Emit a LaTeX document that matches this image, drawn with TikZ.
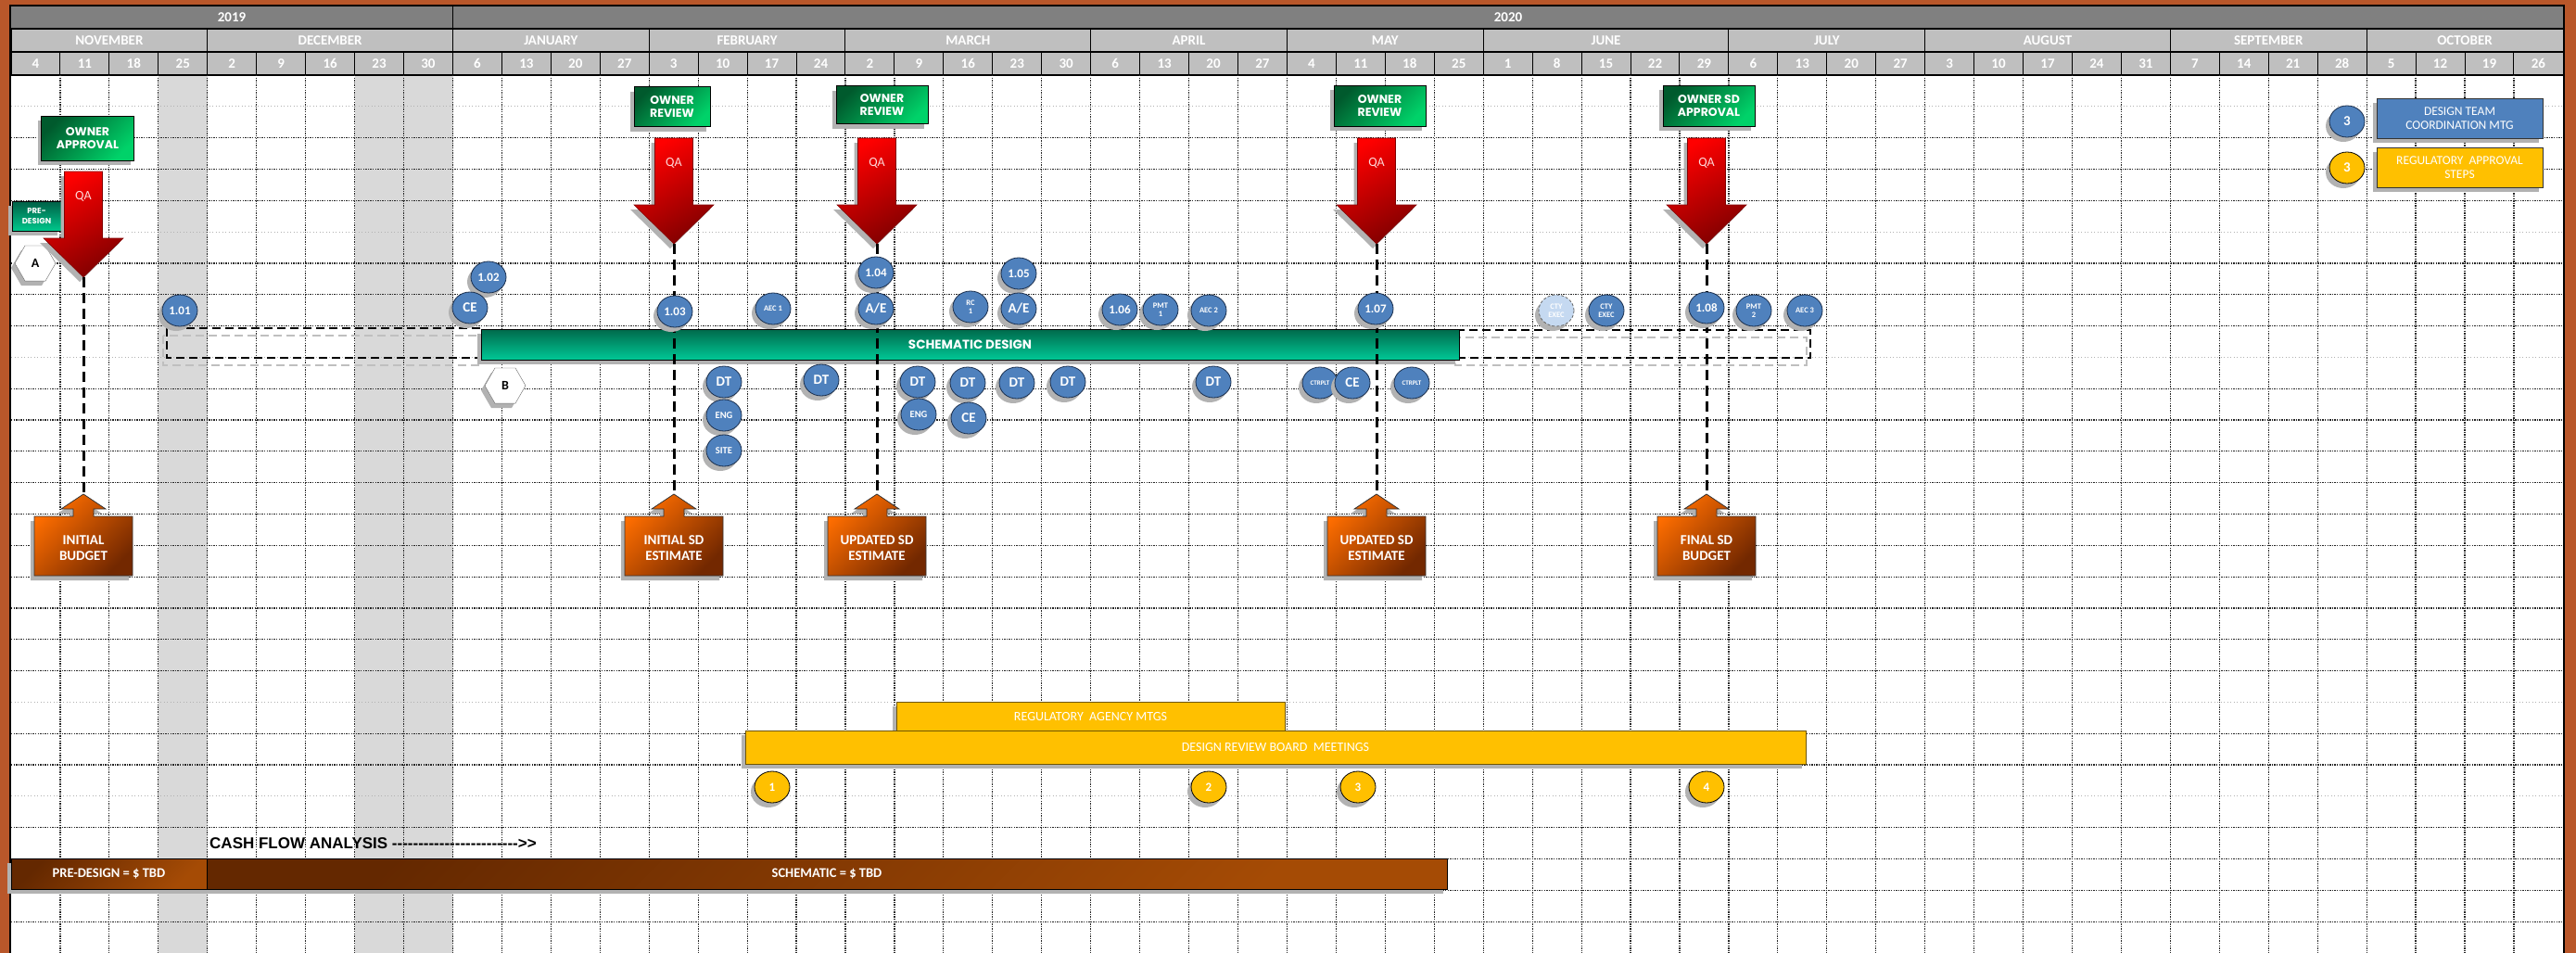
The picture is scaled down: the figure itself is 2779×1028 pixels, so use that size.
\documentclass[tikz,border=0pt]{standalone}
\usepackage{fontspec}
\setmainfont{Carlito}
\newfontfamily\gothic{Poppins}
\newfontfamily\arialfont{Liberation Sans}
\usepackage{tikz}
\usetikzlibrary{positioning}
\usetikzlibrary{shapes.geometric}
\usetikzlibrary{shadows}
\usepackage{xcolor}

\definecolor{frameC}{RGB}{185,87,42}
\definecolor{yearC}{RGB}{128,128,128}
\definecolor{monthC}{RGB}{191,191,191}
\definecolor{offC}{RGB}{217,217,217}
\definecolor{ownDark}{RGB}{0,90,45}
\definecolor{ownLight}{RGB}{0,210,105}
\definecolor{preDark}{RGB}{0,95,70}
\definecolor{preLight}{RGB}{0,200,140}
\definecolor{sdDark}{RGB}{0,105,75}
\definecolor{sdLight}{RGB}{0,200,150}
\definecolor{qaLight}{RGB}{255,0,0}
\definecolor{qaDark}{RGB}{130,0,0}
\definecolor{estLight}{RGB}{255,110,0}
\definecolor{estDark}{RGB}{115,40,0}
\definecolor{cashDark}{RGB}{100,40,0}
\definecolor{cashLight}{RGB}{165,75,5}
\definecolor{mtgC}{RGB}{79,129,189}
\definecolor{mtgEdge}{RGB}{25,45,75}
\definecolor{ctyC}{RGB}{197,217,241}
\definecolor{regC}{RGB}{255,192,0}
\definecolor{regEdge}{RGB}{110,85,0}

\begin{document}
\begin{tikzpicture}[x=1pt,y=-1pt,
  boxshadow/.style={general shadow={fill=black!30, shadow xshift=-4pt, shadow yshift=-5pt}},
  hdr/.style={text=white, font=\bfseries\fontsize{15}{15}\selectfont},
  gridln/.style={black!85, line width=1.2pt, dash pattern=on 1.4pt off 1.2pt},
  gridlt/.style={black!30, line width=1pt, dash pattern=on 1pt off 2.5pt},
  owner/.style={draw=black, line width=1pt, top color=ownDark, bottom color=ownLight, shading angle=45,
    text=white, align=center, inner sep=0pt, font=\gothic\bfseries\fontsize{12.5}{14}\selectfont, boxshadow},
  qa/.style={draw=qaDark, line width=0.6pt, top color=qaLight, bottom color=qaDark, shading angle=30, boxshadow},
  qatext/.style={text=white!85!red, font=\fontsize{14}{14}\selectfont},
  est/.style={draw=black!80, line width=0.8pt, top color=estLight, bottom color=estDark, shading angle=45, boxshadow},
  esttext/.style={text=white, align=center, font=\bfseries\fontsize{15}{17}\selectfont},
  qaline/.style={line width=3pt, dash pattern=on 11pt off 6pt},
  dashbox/.style={line width=2.2pt, dash pattern=on 9pt off 5pt},
  mtg/.style={ellipse, draw=mtgEdge, line width=0.8pt, fill=mtgC, text=white, minimum width=38pt,
    minimum height=34pt, inner sep=0pt, align=center, font=\bfseries\fontsize{13}{12}\selectfont, boxshadow},
  mtgbig/.style={mtg, font=\bfseries\fontsize{15}{15}\selectfont},
  mtgmd/.style={mtg, font=\bfseries\fontsize{10.5}{10}\selectfont},
  mtgsm/.style={mtg, font=\bfseries\fontsize{8.5}{9.5}\selectfont},
  ymtg/.style={mtg, fill=regC, draw=black},
  hexa/.style={regular polygon, regular polygon sides=6, draw=black!60, fill=white, minimum size=44pt,
    inner sep=0pt, font=\bfseries\fontsize{14}{14}\selectfont, boxshadow},
  regbar/.style={draw=regEdge, line width=1pt, fill=regC, text=white, inner sep=0pt,
    font=\fontsize{14}{14}\selectfont, boxshadow},
  legbox/.style={draw=black!80, line width=1pt, text=white, align=center, inner sep=0pt,
    minimum width=179pt, minimum height=43pt, font=\fontsize{13.5}{15}\selectfont, boxshadow},
  cash/.style={draw=black, line width=1pt, top color=cashDark, bottom color=cashLight, shading angle=45,
    text=white, inner sep=0pt, minimum height=33pt, font=\bfseries\fontsize{14.5}{14}\selectfont, boxshadow}
]
\useasboundingbox (0,0) rectangle (2779,1028);

% frame and body
\fill[frameC] (0,0) rectangle (2779,1028);
\fill[white] (12,7) rectangle (2765,1028);
\fill[offC] (170.8,81) rectangle (223.8,1028);
\fill[offC] (382.6,81) rectangle (488.5,1028);

% header
\fill[yearC] (12,7) rectangle (2765,31);
\fill[monthC] (12,31) rectangle (2765,81);
\node[hdr] (y2019) at (250,19) {2019};
\node[hdr] (y2020) at (1627,19) {2020};
\draw[line width=1pt] (488.5,7) -- (488.5,31);

\foreach \a/\b/\m in {0/4/NOVEMBER,4/9/DECEMBER,9/13/JANUARY,13/17/FEBRUARY,17/22/MARCH,22/26/APRIL,
  26/30/MAY,30/35/JUNE,35/39/JULY,39/44/AUGUST,44/48/SEPTEMBER,48/52/OCTOBER}{
  \node[hdr] (mo\a) at ({12+26.47*(\a+\b)},43.5) {\m};
  \draw[line width=1pt] ({12+52.94*\a},31) -- ({12+52.94*\a},56);
}
\foreach \d [count=\i from 0] in {4,11,18,25,2,9,16,23,30,6,13,20,27,3,10,17,24,2,9,16,23,30,6,13,20,27,
  4,11,18,25,1,8,15,22,29,6,13,20,27,3,10,17,24,31,7,14,21,28,5,12,19,26}{
  \node[hdr] (wk\i) at ({38.47+52.94*\i},68.5) {\d};
  \draw[line width=1pt] ({12+52.94*\i},56) -- ({12+52.94*\i},81);
}
\draw[line width=1.2pt] (12,31) -- (2765,31) (12,56) -- (2765,56) (12,81) -- (2765,81);

% grid
\foreach \k in {2,3,4,6,7,8,10,11,12,13,14,15,16,17,18,19,21,22,24,25,26,27}
  \draw[gridln] (12,{81+33.82*\k}) -- (2765,{81+33.82*\k});
\foreach \k in {1,5,9,20,23}
  \draw[gridlt] (12,{81+33.82*\k}) -- (2765,{81+33.82*\k});
\foreach \i in {1,...,51}
  \draw[gridln] ({12+52.94*\i},81) -- ({12+52.94*\i},1028);

% outer border
\draw[line width=2.5pt] (11,1028) -- (11,6) -- (2766,6) -- (2766,1028);

% legend
\node[mtgbig] (leg1) at (2532,131) {3};
\node[legbox, fill=mtgC] (legdt) at (2653.5,127.5) {DESIGN TEAM\\COORDINATION MTG};
\node[mtgbig, fill=regC, draw=black] (leg2) at (2532,181) {3};
\node[legbox, fill=regC] (legreg) at (2653.5,180.5) {REGULATORY\ \ APPROVAL\\STEPS};

% pre-design
\node[owner, top color=preDark, bottom color=preLight, minimum width=53pt, minimum height=32pt,
  font=\gothic\bfseries\fontsize{8.5}{11}\selectfont] (pre) at (39.5,233) {PRE-\\DESIGN};
\node[hexa] (hexA) at (38,284) {A};
\node[hexa] (hexB) at (545,416) {B};

% owner boxes
\node[owner, minimum width=100pt, minimum height=48pt] (own1) at (94.5,149) {OWNER\\APPROVAL};
\node[owner, minimum width=82pt, minimum height=43pt] (own2) at (725,115) {OWNER\\REVIEW};
\node[owner, minimum width=99pt, minimum height=41pt] (own3) at (951.5,113) {OWNER\\REVIEW};
\node[owner, minimum width=99pt, minimum height=44pt] (own4) at (1488.5,114) {OWNER\\REVIEW};
\node[owner, minimum width=99pt, minimum height=44pt] (own5) at (1843.5,114) {OWNER SD\\APPROVAL};

% schematic design bar and dashed spans
\draw[black!25, dashbox] (176,362) rectangle (516,394);
\draw[dashbox] (180,354) rectangle (520,386);
\draw[black!25, dashbox] (1570,364) rectangle (1949,394);
\draw[dashbox] (1574,356) rectangle (1953,386);
\node[draw=black, line width=1pt, top color=sdDark, bottom color=sdLight, text=white, inner sep=0pt,
  minimum width=1055pt, minimum height=33pt, font=\gothic\bfseries\fontsize{13.5}{14}\selectfont, boxshadow]
  (sd) at (1046.5,371.5) {SCHEMATIC DESIGN};

% QA arrows
\foreach \x/\t/\n in {90/185/a,727/149/b,946/149/c,1485/149/d,1841/149/e}{
  \shadedraw[qa] (\x-20.5,\t) -- (\x+20.5,\t) -- (\x+20.5,\t+72) -- (\x+43,\t+72) -- (\x,\t+114)
    -- (\x-43,\t+72) -- (\x-20.5,\t+72) -- cycle;
  \node[qatext] (qa\n) at (\x,\t+27) {QA};
  \coordinate (qatip\n) at (\x,\t+114);
}

% estimate callouts
\foreach \x/\n/\txt in {90/a/{INITIAL\\BUDGET},727/b/{INITIAL SD\\ESTIMATE},946/c/{UPDATED SD\\ESTIMATE},
  1485/d/{UPDATED SD\\ESTIMATE},1841/e/{FINAL SD\\BUDGET}}{
  \shadedraw[est] (\x-53,621) -- (\x-53,557) -- (\x-11,557) -- (\x-11,549) -- (\x-24,549) -- (\x,533)
    -- (\x+24,549) -- (\x+11,549) -- (\x+11,557) -- (\x+53,557) -- (\x+53,621) -- cycle;
  \node[esttext] (est\n) at (\x,591) {\txt};
  \coordinate (esttip\n) at (\x,533);
}

\foreach \n in {a,b,c,d,e}
  \draw[qaline] (qatip\n) -- (esttip\n);

% meetings along the bar
\node[mtg] (m101) at (194,335) {1.01};
\node[mtg] (m102) at (527,299) {1.02};
\node[mtgbig] (mce1) at (507,332) {CE};
\node[mtg] (m103) at (728,336) {1.03};
\node[mtgsm] (maec1) at (834,333) {AEC 1};
\node[mtg] (m104) at (945,294) {1.04};
\node[mtgbig] (mae1) at (945,333) {A/E};
\node[mtgsm] (mrc1) at (1047,331) {RC\\1};
\node[mtg] (m105) at (1099,295) {1.05};
\node[mtgbig] (mae2) at (1099,333) {A/E};
\node[mtg] (m106) at (1208,334) {1.06};
\node[mtgsm] (mpmt1) at (1252,334) {PMT\\1};
\node[mtgsm] (maec2) at (1304,335) {AEC 2};
\node[mtg] (m107) at (1484,333) {1.07};
\node[mtgsm, fill=ctyC, draw=black!60, densely dashed] (mcty1) at (1679,335) {CTY\\EXEC};
\node[mtgsm] (mcty2) at (1733,335) {CTY\\EXEC};
\node[mtg] (m108) at (1841,332) {1.08};
\node[mtgsm] (mpmt2) at (1892,335) {PMT\\2};
\node[mtgsm] (maec3) at (1947,335) {AEC 3};

\node[mtgbig] (mdt1) at (781,412) {DT};
\node[mtgmd] (meng1) at (781,448) {ENG};
\node[mtgmd] (msite) at (781,486) {SITE};
\node[mtgbig] (mdt2) at (886,410) {DT};
\node[mtgbig] (mdt3) at (990,412) {DT};
\node[mtgmd] (meng2) at (991,447) {ENG};
\node[mtgbig] (mdt4) at (1044,413) {DT};
\node[mtgbig] (mce2) at (1045,451) {CE};
\node[mtgbig] (mdt5) at (1097,413) {DT};
\node[mtgbig] (mdt6) at (1152,412) {DT};
\node[mtgbig] (mdt7) at (1309,412) {DT};
\node[mtgsm, font=\bfseries\fontsize{7}{7}\selectfont] (mctr1) at (1424,413) {CTRPLT};
\node[mtgbig] (mce3) at (1459,413) {CE};
\node[mtgsm, font=\bfseries\fontsize{7}{7}\selectfont] (mctr2) at (1523,413) {CTRPLT};

% regulatory
\node[regbar, minimum width=419pt, minimum height=31pt] (regmtg) at (1176.5,772.5) {REGULATORY\ \ AGENCY MTGS};
\node[regbar, minimum width=1144pt, minimum height=36pt] (drb) at (1376,806) {DESIGN REVIEW BOARD\ \ MEETINGS};
\node[ymtg] (drb1) at (833,849) {1};
\node[ymtg] (drb2) at (1304,849) {2};
\node[ymtg] (drb3) at (1465,849) {3};
\node[ymtg] (drb4) at (1841,849) {4};

% cash flow
\node[anchor=west, inner sep=0pt, font=\arialfont\bfseries\fontsize{17}{17}\selectfont] (cfa) at (226,910)
  {CASH FLOW ANALYSIS \foreach \j in {1,...,24}{\hbox{-}}\hbox{>}\hbox{>}};
\node[cash, minimum width=1338pt] (cfsd) at (892,942.5) {SCHEMATIC = \$ TBD};
\node[cash, minimum width=211pt] (cfpre) at (117.5,942.5) {PRE-DESIGN = \$ TBD};

\end{tikzpicture}
\end{document}
